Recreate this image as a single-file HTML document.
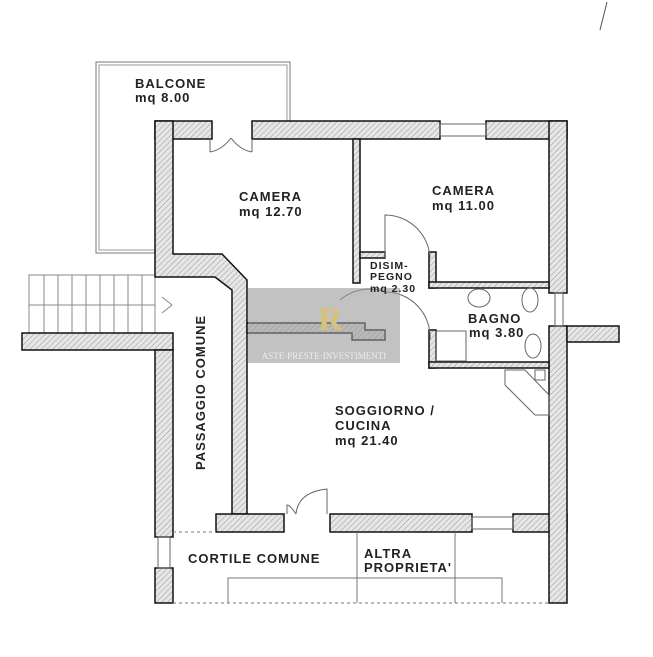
<!DOCTYPE html>
<html><head><meta charset="utf-8"><style>
body{margin:0;background:#fff}
svg{display:block}
text{font-family:"Liberation Sans",sans-serif;font-weight:bold;fill:#222;letter-spacing:1px}
</style></head><body>
<svg width="653" height="657" viewBox="0 0 653 657" xmlns="http://www.w3.org/2000/svg">
<defs>
<pattern id="h" width="4" height="4" patternUnits="userSpaceOnUse" patternTransform="rotate(45)">
<rect width="4" height="4" fill="#e6e6e6"/><line x1="0" y1="0" x2="0" y2="4" stroke="#9a9a9a" stroke-width="1"/>
</pattern>
</defs>
<line x1="607" y1="2" x2="600" y2="30" stroke="#555" stroke-width="1"/>
<!-- balcony -->
<rect x="96" y="62" width="194" height="191" fill="none" stroke="#777" stroke-width="1"/>
<rect x="99" y="65" width="188" height="185" fill="none" stroke="#999" stroke-width="1"/>
<rect x="156" y="122" width="410" height="480" fill="#fff"/>
<!-- stairs -->
<g stroke="#888" stroke-width="1" fill="none">
<rect x="29" y="275" width="126" height="58"/>
<line x1="29" y1="305" x2="155" y2="305"/>
<line x1="44" y1="275" x2="44" y2="333"/><line x1="58" y1="275" x2="58" y2="333"/><line x1="72" y1="275" x2="72" y2="333"/><line x1="86" y1="275" x2="86" y2="333"/><line x1="100" y1="275" x2="100" y2="333"/><line x1="114" y1="275" x2="114" y2="333"/><line x1="128" y1="275" x2="128" y2="333"/><line x1="142" y1="275" x2="142" y2="333"/>
<polyline points="162,297 172,305 162,313"/>
</g>
<g fill="url(#h)" stroke="#111" stroke-width="1.5">
<rect x="155" y="121" width="57" height="18"/>
<rect x="252" y="121" width="188" height="18"/>
<rect x="486" y="121" width="81" height="18"/>
<polygon points="155,121 173,121 173,254 222,254 247,280 247,514 232,514 232,290 215,277 155,277"/>
<rect x="22" y="333" width="151" height="17"/>
<rect x="155" y="350" width="18" height="187"/>
<rect x="155" y="568" width="18" height="35"/>
<polygon points="216,514 284,514 284,532 216,532"/>
<rect x="330" y="514" width="142" height="18"/>
<rect x="513" y="514" width="54" height="18"/>
<rect x="549" y="121" width="18" height="172"/>
<rect x="549" y="326" width="18" height="277"/>
<rect x="567" y="326" width="52" height="16"/>
<rect x="353" y="139" width="7" height="144"/>
<rect x="360" y="252" width="25" height="6"/>
<rect x="429" y="252" width="7" height="36"/>
<rect x="429" y="282" width="120" height="6"/>
<rect x="429" y="330" width="7" height="38"/>
<rect x="429" y="362" width="120" height="6"/>
<polygon points="247,323 365,323 365,330 385,330 385,340 352,340 352,333 247,333"/>
</g>
<!-- door/window details -->
<g stroke="#666" stroke-width="1" fill="none">
<path d="M210,139 L210,152 M252,139 L252,152 M210,152 Q222,150 231,138 M252,152 Q240,150 231,138"/>
<rect x="440" y="124" width="46" height="12"/>
<path d="M385,258 L385,215 A45,45 0 0 1 430,258"/>
<path d="M385,292 A45,45 0 0 1 430,340"/>
<path d="M340,300 A45,45 0 0 1 385,292"/>
<rect x="555" y="293" width="8" height="33"/>
<rect x="472" y="517" width="41" height="12"/>
<path d="M287,514 L287,505 Q290,505 296,514 M296,514 Q298,492 327,489 L327,514"/>
<rect x="158" y="537" width="12" height="31"/>
<ellipse cx="479" cy="298" rx="11" ry="9"/><ellipse cx="530" cy="300" rx="8" ry="12"/><ellipse cx="533" cy="346" rx="8" ry="12"/>
<rect x="436" y="331" width="30" height="30"/>
<path d="M505,370 L525,370 L549,395 L549,415 L535,415 L505,385 Z"/>
<rect x="535" y="370" width="10" height="10"/>
</g>
<!-- dashed / courtyard lines -->
<g stroke="#777" stroke-width="1" fill="none">
<line x1="173" y1="532" x2="216" y2="532" stroke-dasharray="3,3"/>
<line x1="173" y1="603" x2="549" y2="603" stroke-dasharray="3,3"/>
<line x1="357" y1="532" x2="357" y2="603"/>
<line x1="455" y1="532" x2="455" y2="603"/>
<polyline points="228,603 228,578 502,578 502,603"/>
</g>
<!-- watermark -->
<rect x="248" y="288" width="152" height="75" fill="#9a9a9a" opacity="0.6"/>
<text x="318" y="330" style="font-family:'Liberation Serif',serif;font-size:34px;fill:#d8c27a;letter-spacing:0">R</text>
<text x="324" y="359" text-anchor="middle" style="font-family:'Liberation Serif',serif;font-size:9px;fill:#eee;font-weight:normal;letter-spacing:0">ASTE·PRESTE·INVESTIMENTI</text>
<!-- labels -->
<g font-size="13">
<text x="135" y="88">BALCONE</text><text x="135" y="102">mq 8.00</text>
<text x="239" y="201">CAMERA</text><text x="239" y="216">mq 12.70</text>
<text x="432" y="195">CAMERA</text><text x="432" y="210">mq 11.00</text>
<text x="468" y="323">BAGNO</text><text x="469" y="337">mq 3.80</text>
<text x="335" y="415">SOGGIORNO /</text><text x="335" y="430">CUCINA</text><text x="335" y="445">mq 21.40</text>
<text x="188" y="563">CORTILE COMUNE</text>
<text x="364" y="558">ALTRA</text><text x="364" y="572">PROPRIETA'</text>
<text transform="translate(205,470) rotate(-90)">PASSAGGIO COMUNE</text>
</g>
<g font-size="10.5"><text x="370" y="269">DISIM-</text><text x="370" y="280">PEGNO</text><text x="370" y="292">mq 2.30</text></g>
</svg>
</body></html>
